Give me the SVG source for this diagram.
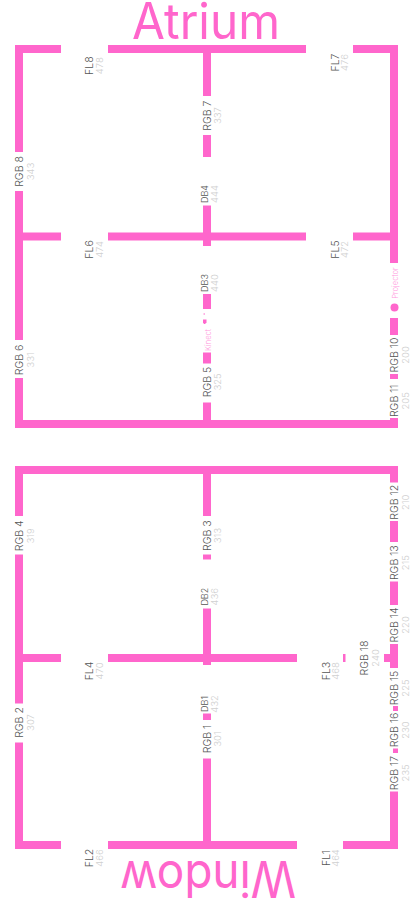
<svg xmlns="http://www.w3.org/2000/svg" width="414" height="900" viewBox="0 0 414 900">
<style>
.w{fill:#ff66cc}
.n{font-family:"Inter","Liberation Sans",sans-serif;font-size:10.500px;font-weight:300;fill:#555;text-anchor:middle}
.s{font-size:9px}
.v{font-family:"Inter","Liberation Sans",sans-serif;font-size:9.500px;font-weight:300;fill:#d0d0d0;text-anchor:middle}
.p{font-family:"Inter","Liberation Sans",sans-serif;font-size:7.500px;font-weight:300;fill:#ff99dd;text-anchor:middle}
.t{font-family:"Inter","Liberation Sans",sans-serif;font-size:50px;font-weight:400;fill:#ff66cc;text-anchor:middle}
</style>
<rect width="414" height="900" fill="#fff"/>
<g id="walls" class="w">
<rect x="15" y="45" width="46" height="8"/><rect x="108" y="45" width="198" height="8"/><rect x="353" y="45" width="45" height="8"/>
<rect x="15" y="45" width="8" height="107"/><rect x="15" y="191" width="8" height="149"/><rect x="15" y="378" width="8" height="50"/>
<rect x="15" y="232.500" width="46" height="8"/><rect x="108" y="232.500" width="198" height="8"/><rect x="353" y="232.500" width="45" height="8"/>
<rect x="203" y="53" width="8" height="43"/><rect x="203" y="135" width="8" height="22"/><rect x="203" y="205.500" width="8" height="40.500"/><rect x="203" y="294" width="8" height="15"/><rect x="203" y="352.500" width="8" height="11"/><rect x="203" y="402.500" width="8" height="18"/>
<rect x="15" y="420" width="383" height="8"/>
<rect x="390" y="45" width="8" height="218"/><rect x="390" y="318" width="8" height="17"/><rect x="390" y="374" width="8" height="5"/><rect x="390" y="418" width="8" height="10"/>
<rect x="15" y="466" width="383" height="8"/>
<rect x="15" y="466" width="8" height="50"/><rect x="15" y="554.500" width="8" height="149"/><rect x="15" y="742.500" width="8" height="106.500"/>
<rect x="15" y="654" width="46" height="8"/><rect x="108" y="654" width="189" height="8"/><rect x="343" y="654" width="2.500" height="8"/><rect x="384" y="654" width="14" height="8"/>
<rect x="203" y="474" width="8" height="42"/><rect x="203" y="554.500" width="8" height="5"/><rect x="203" y="608.500" width="8" height="56.500"/><rect x="203" y="713.500" width="8" height="6.500"/><rect x="203" y="758.500" width="8" height="82.500"/>
<rect x="15" y="841" width="46" height="8"/><rect x="108" y="841" width="189" height="8"/><rect x="343" y="841" width="55" height="8"/>
<rect x="390" y="474" width="8" height="8.500"/><rect x="390" y="521" width="8" height="21"/><rect x="390" y="581.500" width="8" height="23.500"/><rect x="390" y="644" width="8" height="24"/><rect x="393" y="706" width="5" height="5"/><rect x="393" y="748.500" width="5" height="4.500"/><rect x="390" y="791.500" width="8" height="57.500"/>
</g>
<g id="title-atrium"><text class="t" x="206" y="38.500" textLength="148" lengthAdjust="spacingAndGlyphs">Atrium</text></g>
<g id="title-window"><text class="t" transform="translate(208 861) rotate(180)" textLength="176" lengthAdjust="spacingAndGlyphs">Window</text></g>
<g id="fl8"><text class="n" transform="translate(93 65.700) rotate(-90)">FL8</text><text class="v" transform="translate(103 65.700) rotate(-90)">478</text></g>
<g id="fl7"><text class="n" transform="translate(339 62.500) rotate(-90)">FL7</text><text class="v" transform="translate(348 62.500) rotate(-90)">476</text></g>
<g id="rgb7"><text class="n" transform="translate(211 115.700) rotate(-90)">RGB 7</text><text class="v" transform="translate(221 115.700) rotate(-90)">337</text></g>
<g id="rgb8"><text class="n" transform="translate(23 171.500) rotate(-90)">RGB 8</text><text class="v" transform="translate(34 171.500) rotate(-90)">343</text></g>
<g id="db4"><text class="n s" transform="translate(208 194) rotate(-90)">DB4</text><text class="v" transform="translate(218 194) rotate(-90)">444</text></g>
<g id="fl6"><text class="n" transform="translate(93 249.500) rotate(-90)">FL6</text><text class="v" transform="translate(103 249.500) rotate(-90)">474</text></g>
<g id="fl5"><text class="n" transform="translate(339 249.500) rotate(-90)">FL5</text><text class="v" transform="translate(348 249.500) rotate(-90)">472</text></g>
<g id="db3"><text class="n s" transform="translate(208 283) rotate(-90)">DB3</text><text class="v" transform="translate(218 283) rotate(-90)">440</text></g>
<g id="projector"><circle class="w" cx="394.500" cy="307.500" r="4"/><text class="p" transform="translate(397.500 283) rotate(-90)">Projector</text></g>
<g id="kinect"><rect class="w" x="203.500" y="313.500" width="1.500" height="1"/><path class="w" d="M203 319.500h3.500v3l-1.500 1.500h-1l-1-1.500z"/><text class="p" transform="translate(210.500 340) rotate(-90)">Kinect</text></g>
<g id="rgb6"><text class="n" transform="translate(23 360) rotate(-90)">RGB 6</text><text class="v" transform="translate(34 360) rotate(-90)">331</text></g>
<g id="rgb5"><text class="n" transform="translate(210.500 382) rotate(-90)">RGB 5</text><text class="v" transform="translate(221 382) rotate(-90)">325</text></g>
<g id="rgb10"><text class="n" transform="translate(398 355) rotate(-90)">RGB 10</text><text class="v" transform="translate(409 355) rotate(-90)">200</text></g>
<g id="rgb11"><text class="n" transform="translate(398 400.800) rotate(-90)">RGB 11</text><text class="v" transform="translate(409 400.800) rotate(-90)">205</text></g>
<g id="rgb12"><text class="n" transform="translate(398 502.300) rotate(-90)">RGB 12</text><text class="v" transform="translate(409 502.300) rotate(-90)">210</text></g>
<g id="rgb13"><text class="n" transform="translate(398 562.700) rotate(-90)">RGB 13</text><text class="v" transform="translate(409 562.700) rotate(-90)">215</text></g>
<g id="rgb14"><text class="n" transform="translate(398 625) rotate(-90)">RGB 14</text><text class="v" transform="translate(409 625) rotate(-90)">220</text></g>
<g id="rgb15"><text class="n" transform="translate(398 688) rotate(-90)">RGB 15</text><text class="v" transform="translate(409 688) rotate(-90)">225</text></g>
<g id="rgb16"><text class="n" transform="translate(398 730) rotate(-90)">RGB 16</text><text class="v" transform="translate(409 730) rotate(-90)">230</text></g>
<g id="rgb17"><text class="n" transform="translate(398 773) rotate(-90)">RGB 17</text><text class="v" transform="translate(409 773) rotate(-90)">235</text></g>
<g id="rgb18"><text class="n" transform="translate(368 658) rotate(-90)">RGB 18</text><text class="v" transform="translate(379 658) rotate(-90)">240</text></g>
<g id="rgb4"><text class="n" transform="translate(23 535.800) rotate(-90)">RGB 4</text><text class="v" transform="translate(34 535.800) rotate(-90)">319</text></g>
<g id="rgb3"><text class="n" transform="translate(211 535.700) rotate(-90)">RGB 3</text><text class="v" transform="translate(221 535.700) rotate(-90)">313</text></g>
<g id="db2"><text class="n s" transform="translate(208 596.700) rotate(-90)">DB2</text><text class="v" transform="translate(218 596.700) rotate(-90)">436</text></g>
<g id="fl4"><text class="n" transform="translate(93 671) rotate(-90)">FL4</text><text class="v" transform="translate(103 671) rotate(-90)">470</text></g>
<g id="fl3"><text class="n" transform="translate(329.500 671) rotate(-90)">FL3</text><text class="v" transform="translate(339 671) rotate(-90)">468</text></g>
<g id="rgb2"><text class="n" transform="translate(23 722.500) rotate(-90)">RGB 2</text><text class="v" transform="translate(34 722.500) rotate(-90)">307</text></g>
<g id="db1"><text class="n s" transform="translate(208 704) rotate(-90)">DB1</text><text class="v" transform="translate(218 704) rotate(-90)">432</text></g>
<g id="rgb1"><text class="n" transform="translate(211 739) rotate(-90)">RGB 1</text><text class="v" transform="translate(221 739) rotate(-90)">301</text></g>
<g id="fl2"><text class="n" transform="translate(93 858) rotate(-90)">FL2</text><text class="v" transform="translate(103 858) rotate(-90)">466</text></g>
<g id="fl1"><text class="n" transform="translate(329.500 858) rotate(-90)">FL1</text><text class="v" transform="translate(339 858) rotate(-90)">464</text></g>
</svg>
